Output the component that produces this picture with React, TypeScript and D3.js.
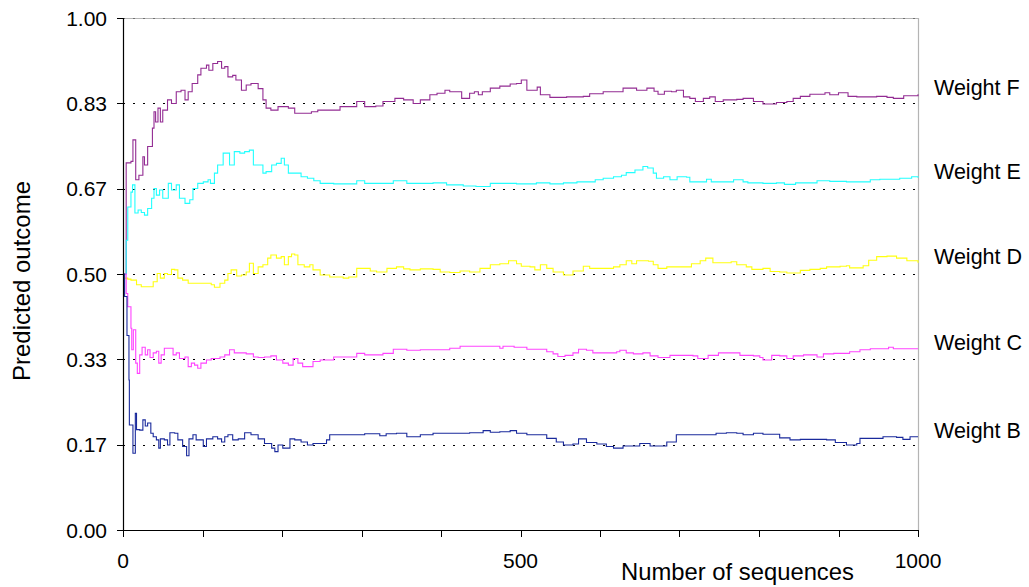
import React from "react";
import * as d3 from "d3";

type Pt = [number, number];

const seriesNames = ["Weight F", "Weight E", "Weight D", "Weight C", "Weight B"];
const seriesColors = ["#932c93", "#22ffff", "#ffff10", "#ff44ff", "#1a2a9c"];

const weightF: Pt[] = [[0,0.5],[4,0.717],[10,0.72],[12.5,0.762],[16,0.684],[20,0.693],[25,0.729],[27,0.713],[31,0.749],[37,0.785],[39,0.817],[41,0.797],[44,0.824],[47,0.797],[50,0.82],[56,0.84],[61,0.833],[67,0.856],[73,0.859],[78,0.84],[82,0.856],[87,0.872],[94,0.889],[98,0.902],[105,0.908],[108,0.898],[113,0.911],[119,0.915],[124,0.902],[128,0.905],[132,0.885],[138,0.888],[142,0.879],[149,0.859],[155,0.869],[161,0.872],[170,0.862],[176,0.84],[180,0.824],[186,0.82],[195,0.827],[208,0.824],[216,0.814],[228,0.814],[237,0.817],[245,0.82],[256,0.82],[273,0.827],[285,0.827],[294,0.837],[304,0.827],[318,0.828],[327,0.837],[342,0.843],[353,0.84],[365,0.833],[374,0.84],[386,0.85],[395,0.853],[405,0.859],[411,0.856],[422,0.856],[426,0.843],[436,0.853],[442,0.856],[447,0.85],[452,0.856],[462,0.863],[474,0.867],[487,0.871],[495,0.872],[501,0.879],[508,0.859],[516,0.859],[521,0.865],[525,0.85],[537,0.845],[558,0.846],[579,0.847],[587,0.852],[604,0.856],[623,0.856],[629,0.863],[646,0.859],[659,0.863],[668,0.857],[673,0.851],[681,0.857],[690,0.856],[696,0.859],[705,0.846],[713,0.843],[720,0.837],[730,0.843],[738,0.846],[745,0.837],[755,0.84],[772,0.841],[780,0.843],[793,0.837],[805,0.832],[822,0.835],[835,0.837],[843,0.843],[852,0.847],[864,0.851],[883,0.854],[889,0.85],[900,0.854],[912,0.847],[923,0.846],[948,0.847],[961,0.845],[969,0.843],[982,0.848],[1000,0.851]];

const weightE: Pt[] = [[0,0.5],[4,0.566],[6,0.631],[10,0.66],[12,0.674],[15,0.619],[19,0.625],[23,0.62],[27,0.615],[31,0.628],[36,0.648],[39,0.667],[42,0.654],[46,0.664],[50,0.648],[57,0.677],[61,0.664],[67,0.674],[71,0.648],[78,0.638],[84,0.645],[88,0.667],[94,0.677],[101,0.68],[107,0.684],[110,0.677],[115,0.697],[119,0.713],[126,0.736],[130,0.736],[134,0.713],[140,0.739],[147,0.736],[153,0.739],[159,0.742],[164,0.713],[170,0.713],[176,0.697],[180,0.7],[187,0.713],[193,0.716],[199,0.726],[203,0.713],[208,0.697],[216,0.697],[224,0.69],[232,0.687],[240,0.682],[248,0.677],[265,0.676],[294,0.682],[304,0.677],[340,0.682],[357,0.677],[390,0.678],[407,0.674],[428,0.672],[444,0.671],[462,0.677],[478,0.677],[495,0.676],[520,0.678],[537,0.676],[554,0.678],[571,0.68],[594,0.684],[604,0.687],[617,0.69],[627,0.693],[633,0.698],[644,0.703],[654,0.71],[660,0.707],[667,0.697],[671,0.687],[680,0.69],[688,0.684],[697,0.69],[709,0.689],[713,0.68],[730,0.68],[734,0.685],[740,0.68],[763,0.68],[768,0.684],[780,0.68],[786,0.678],[805,0.677],[822,0.678],[832,0.675],[846,0.678],[873,0.682],[889,0.681],[910,0.68],[933,0.68],[940,0.684],[952,0.685],[969,0.685],[977,0.687],[992,0.69],[1000,0.688]];

const weightD: Pt[] = [[0,0.5],[2,0.492],[6,0.49],[10,0.488],[17,0.479],[23,0.475],[33,0.475],[38,0.485],[43,0.501],[47,0.492],[52,0.501],[56,0.499],[61,0.509],[65,0.508],[69,0.492],[75,0.488],[82,0.482],[90,0.482],[103,0.482],[111,0.479],[115,0.474],[122,0.482],[128,0.488],[132,0.501],[136,0.508],[143,0.496],[149,0.498],[155,0.504],[159,0.521],[164,0.501],[170,0.514],[176,0.518],[182,0.531],[186,0.537],[193,0.531],[199,0.534],[203,0.518],[208,0.534],[212,0.539],[216,0.537],[220,0.518],[228,0.514],[235,0.518],[239,0.508],[248,0.498],[260,0.494],[277,0.492],[284,0.494],[294,0.511],[304,0.511],[311,0.506],[319,0.504],[332,0.511],[344,0.514],[353,0.51],[361,0.508],[374,0.51],[390,0.509],[399,0.504],[411,0.503],[424,0.506],[436,0.504],[449,0.511],[462,0.518],[474,0.52],[485,0.526],[495,0.52],[501,0.515],[512,0.514],[518,0.508],[525,0.518],[533,0.511],[541,0.504],[554,0.498],[566,0.506],[579,0.515],[587,0.511],[604,0.511],[617,0.514],[625,0.518],[633,0.526],[640,0.52],[646,0.526],[661,0.525],[667,0.518],[673,0.511],[684,0.514],[709,0.514],[715,0.52],[726,0.526],[733,0.531],[742,0.522],[755,0.522],[765,0.524],[772,0.518],[784,0.514],[791,0.509],[805,0.511],[814,0.505],[826,0.504],[835,0.502],[852,0.507],[864,0.509],[877,0.511],[885,0.514],[902,0.515],[910,0.516],[914,0.512],[931,0.516],[938,0.527],[948,0.534],[961,0.535],[973,0.531],[986,0.526],[1000,0.522]];

const weightC: Pt[] = [[0,0.5],[4,0.462],[6,0.436],[10,0.394],[11,0.352],[13,0.391],[16,0.326],[18,0.306],[21,0.342],[24,0.357],[28,0.342],[31,0.352],[34,0.337],[38,0.346],[42,0.349],[45,0.326],[48,0.342],[52,0.355],[59,0.355],[63,0.342],[67,0.346],[71,0.335],[78,0.338],[82,0.319],[86,0.326],[90,0.322],[94,0.316],[98,0.326],[105,0.332],[111,0.335],[118,0.335],[122,0.338],[128,0.342],[134,0.352],[140,0.346],[147,0.346],[155,0.344],[164,0.338],[170,0.337],[178,0.338],[186,0.34],[193,0.332],[201,0.326],[208,0.322],[214,0.335],[220,0.326],[226,0.319],[232,0.319],[239,0.329],[248,0.332],[265,0.338],[282,0.338],[294,0.345],[304,0.342],[327,0.345],[340,0.353],[357,0.351],[374,0.352],[390,0.352],[411,0.355],[424,0.359],[470,0.359],[474,0.355],[478,0.359],[492,0.357],[508,0.353],[520,0.353],[533,0.348],[541,0.344],[547,0.339],[556,0.341],[566,0.346],[573,0.353],[583,0.351],[591,0.346],[604,0.346],[621,0.348],[625,0.351],[633,0.346],[642,0.344],[654,0.346],[663,0.34],[673,0.337],[688,0.341],[705,0.341],[717,0.34],[723,0.335],[736,0.341],[749,0.346],[768,0.346],[776,0.341],[793,0.34],[801,0.337],[805,0.332],[816,0.341],[826,0.34],[835,0.335],[843,0.34],[856,0.342],[868,0.342],[873,0.338],[881,0.344],[894,0.345],[914,0.348],[927,0.352],[940,0.354],[963,0.357],[969,0.354],[1000,0.354]];

const weightB: Pt[] = [[0,0.5],[2,0.456],[5,0.38],[7.5,0.293],[8,0.205],[10,0.205],[12.5,0.15],[15.5,0.228],[17,0.196],[21,0.195],[25,0.215],[28,0.203],[31,0.209],[35,0.189],[38,0.182],[42,0.176],[45,0.16],[47,0.178],[52,0.176],[56,0.166],[59,0.19],[65,0.189],[69,0.176],[75,0.163],[80,0.145],[83,0.178],[88,0.186],[92,0.176],[101,0.163],[105,0.178],[113,0.182],[119,0.178],[124,0.172],[128,0.182],[132,0.186],[138,0.176],[145,0.178],[153,0.19],[161,0.186],[170,0.178],[178,0.169],[187,0.16],[191,0.153],[195,0.166],[201,0.16],[210,0.178],[216,0.176],[224,0.172],[232,0.166],[239,0.169],[248,0.169],[256,0.176],[260,0.186],[289,0.186],[304,0.188],[323,0.184],[331,0.188],[344,0.189],[357,0.182],[374,0.186],[390,0.189],[411,0.189],[436,0.19],[453,0.194],[462,0.191],[474,0.192],[487,0.194],[495,0.189],[508,0.186],[520,0.186],[533,0.179],[545,0.172],[554,0.166],[566,0.168],[573,0.178],[583,0.171],[596,0.168],[608,0.163],[617,0.16],[629,0.164],[650,0.169],[663,0.164],[675,0.164],[684,0.172],[696,0.186],[734,0.186],[746,0.189],[759,0.19],[772,0.189],[780,0.186],[793,0.189],[805,0.187],[826,0.18],[839,0.176],[852,0.177],[868,0.177],[885,0.176],[896,0.171],[910,0.166],[923,0.169],[927,0.179],[944,0.179],[956,0.182],[973,0.181],[981,0.177],[990,0.182],[1000,0.182]];

const seriesData: Pt[][] = [weightF, weightE, weightD, weightC, weightB];

const yTickValues = [0, 0.16667, 0.33333, 0.5, 0.66667, 0.83333, 1];
const yTickLabels = ["0.00", "0.17", "0.33", "0.50", "0.67", "0.83", "1.00"];
const gridValues = [0.16667, 0.33333, 0.5, 0.66667, 0.83333];
const xTickValues = [0, 100, 200, 300, 400, 500, 600, 700, 800, 900, 1000];
const xLabelValues = [0, 500, 1000];
const xLabelTexts = ["0", "500", "1000"];

const FONT = "'Liberation Sans', Arial, Helvetica, sans-serif";

export default function App() {
  const W = 1029, H = 587;
  const left = 123, right = 918, top = 18, bottom = 530;
  const x = d3.scaleLinear().domain([0, 1000]).range([left, right]);
  const y = d3.scaleLinear().domain([0, 1]).range([bottom, top]);
  const line = d3.line<Pt>().x(d => x(d[0])).y(d => y(d[1])).curve(d3.curveStepAfter);

  return (
    <svg width={W} height={H} style={{ position: "absolute", left: 0, top: 0, background: "#fff" }} fontFamily={FONT}>
      <rect x={0} y={0} width={W} height={H} fill="#fff" />
      <line x1={left} x2={right} y1={top + 0.5} y2={top + 0.5} stroke="#b4b4b4" strokeWidth={1} />
      <line x1={left} x2={right} y1={top + 0.5} y2={top + 0.5} stroke="#707070" strokeWidth={1} strokeDasharray="2,8" />
      <line x1={right + 0.5} x2={right + 0.5} y1={top} y2={bottom} stroke="#b4b4b4" strokeWidth={1.2} />
      {gridValues.map((v, i) => (
        <line key={i} x1={left} x2={right} y1={Math.round(y(v)) + 0.5} y2={Math.round(y(v)) + 0.5}
          stroke="#000" strokeWidth={1} strokeDasharray="2,8" />
      ))}
      {seriesData.map((d, i) => (
        <path key={i} d={line(d) || ""} fill="none" stroke={seriesColors[i]} strokeWidth={1.1} />
      ))}
      <line x1={left + 0.5} x2={left + 0.5} y1={top} y2={bottom + 1} stroke="#000" strokeWidth={1.2} />
      <line x1={left} x2={right + 1} y1={bottom + 0.5} y2={bottom + 0.5} stroke="#000" strokeWidth={1.2} />
      {yTickValues.map((v, i) => (
        <g key={i}>
          <line x1={left - 6} x2={left} y1={Math.round(y(v)) + 0.5} y2={Math.round(y(v)) + 0.5} stroke="#000" strokeWidth={1} />
          <text x={107} y={y(v) + 7.5} textAnchor="end" fontSize={21} fill="#000">{yTickLabels[i]}</text>
        </g>
      ))}
      {xTickValues.map((v, i) => (
        <line key={i} x1={Math.round(x(v)) + 0.5} x2={Math.round(x(v)) + 0.5} y1={bottom} y2={bottom + 7} stroke="#000" strokeWidth={1} />
      ))}
      {xLabelValues.map((v, i) => (
        <text key={i} x={x(v)} y={568} textAnchor="middle" fontSize={21} fill="#000">{xLabelTexts[i]}</text>
      ))}
      <text x={737.5} y={580} textAnchor="middle" fontSize={23.8} fill="#000">Number of sequences</text>
      <text transform="translate(30,281) rotate(-90)" textAnchor="middle" fontSize={24} fill="#000">Predicted outcome</text>
      {seriesData.map((d, i) => (
        <text key={i} x={934} y={y(d[d.length - 1][1]) + 1} fontSize={21.5} fill="#000">{seriesNames[i]}</text>
      ))}
    </svg>
  );
}
